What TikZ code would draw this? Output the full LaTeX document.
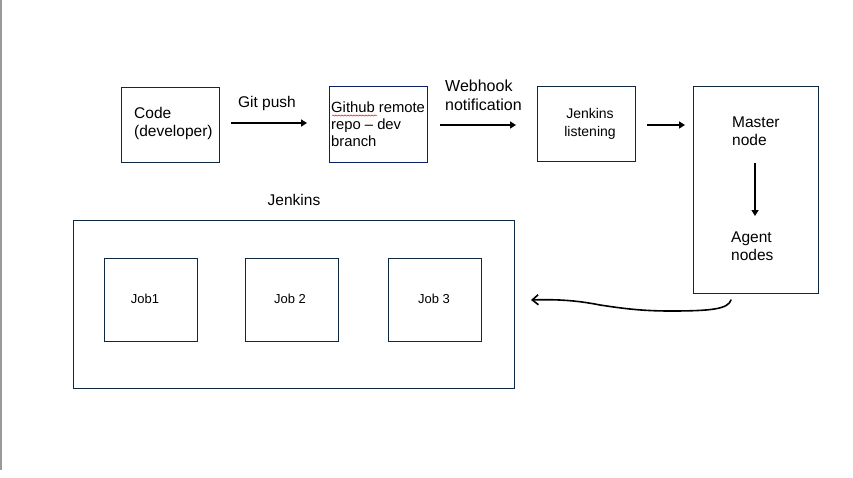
\documentclass[tikz,border=0pt]{standalone}
\usepackage{fontspec}
\setmainfont{Liberation Sans}
\usetikzlibrary{arrows.meta,decorations.pathmorphing}
\definecolor{boxline}{HTML}{0E2841}
\begin{document}
\begin{tikzpicture}[x=1pt,y=-1pt,
  box/.style={draw=boxline,line width=1pt,inner sep=0pt,anchor=north west},
  lbl/.style={font=\fontsize{15.5}{18.5}\selectfont,text=black,align=left},
  mid/.style={font=\fontsize{14}{18}\selectfont,text=black},
  small/.style={font=\fontsize{13}{16}\selectfont,text=black},
  flow/.style={line width=2.4pt,-{Triangle[length=6pt,width=7pt]}}]
\useasboundingbox (0,0) rectangle (853,477);
\fill[white] (0,0) rectangle (853,477);
\draw[gray!80,line width=1.5pt] (0.8,0) -- (0.8,470);
% top row
\node[box,minimum width=98pt,minimum height=75pt] (code) at (121,87) {};
\node[lbl,anchor=west,inner sep=0pt] (codet) at (134,123.5) {Code\\(developer)};
\node[box,minimum width=98pt,minimum height=76pt,draw=boxline!80!blue] (gh) at (329,86) {};
\node[font=\fontsize{14.8}{17}\selectfont,align=left,anchor=west,inner sep=0pt] (ght) at (331,124) {Github remote\\repo -- dev\\branch};
\draw[red,line width=0.5pt,decorate,decoration={snake,amplitude=0.6pt,segment length=3pt}] (332,115.5) -- (377,115.5);
\node[box,minimum width=98pt,minimum height=75pt] (jl) at (537,86) {};
\node[mid,align=center] (jlt) at (590,124) {Jenkins\\listening};
\node[box,minimum width=125pt,minimum height=207pt] (master) at (693,86) {};
\node[lbl,align=left,anchor=west,inner sep=0pt] (mn) at (732,131) {Master\\node};
\node[lbl,align=left,anchor=west,inner sep=0pt] (an) at (731,246) {Agent\\nodes};
\coordinate (a1s) at (231,123); \coordinate (a1e) at (307,123);
\draw[flow] (a1s) -- (a1e);
\node[lbl] (gp) at (267,103) {Git push};
\coordinate (a2s) at (440,125); \coordinate (a2e) at (516,125);
\draw[flow] (a2s) -- (a2e);
\node[font=\fontsize{16}{19}\selectfont,align=left,anchor=west,inner sep=0pt] (wh) at (445,95) {Webhook\\notification};
\coordinate (a3s) at (647,125); \coordinate (a3e) at (685,125);
\draw[flow] (a3s) -- (a3e);
\coordinate (a4s) at (755,163); \coordinate (a4e) at (755,216);
\draw[flow] (a4s) -- (a4e);
% Jenkins container
\node[lbl] (jt) at (294,200) {Jenkins};
\node[box,minimum width=441pt,minimum height=168pt] (jk) at (73,220) {};
\node[box,minimum width=93pt,minimum height=83pt] (j1) at (104,258) {};
\node[box,minimum width=93pt,minimum height=83pt] (j2) at (245,258) {};
\node[box,minimum width=93pt,minimum height=83pt] (j3) at (388,258) {};
\node[small] (j1t) at (145,299) {Job1};
\node[small] (j2t) at (290,299) {Job 2};
\node[small] (j3t) at (434,299) {Job 3};
% hand-drawn return arrow
\coordinate (cs) at (731,300);
\coordinate (ce) at (531,300);
\draw[line width=1.6pt,line cap=round,-{Straight Barb[length=6pt,width=10pt]}]
  (cs) .. controls (728,309) and (712,311) .. (670,311)
  .. controls (640,311) and (620,308) .. (600,305)
  .. controls (580,301) and (560,299) .. (ce);
\end{tikzpicture}
\end{document}
